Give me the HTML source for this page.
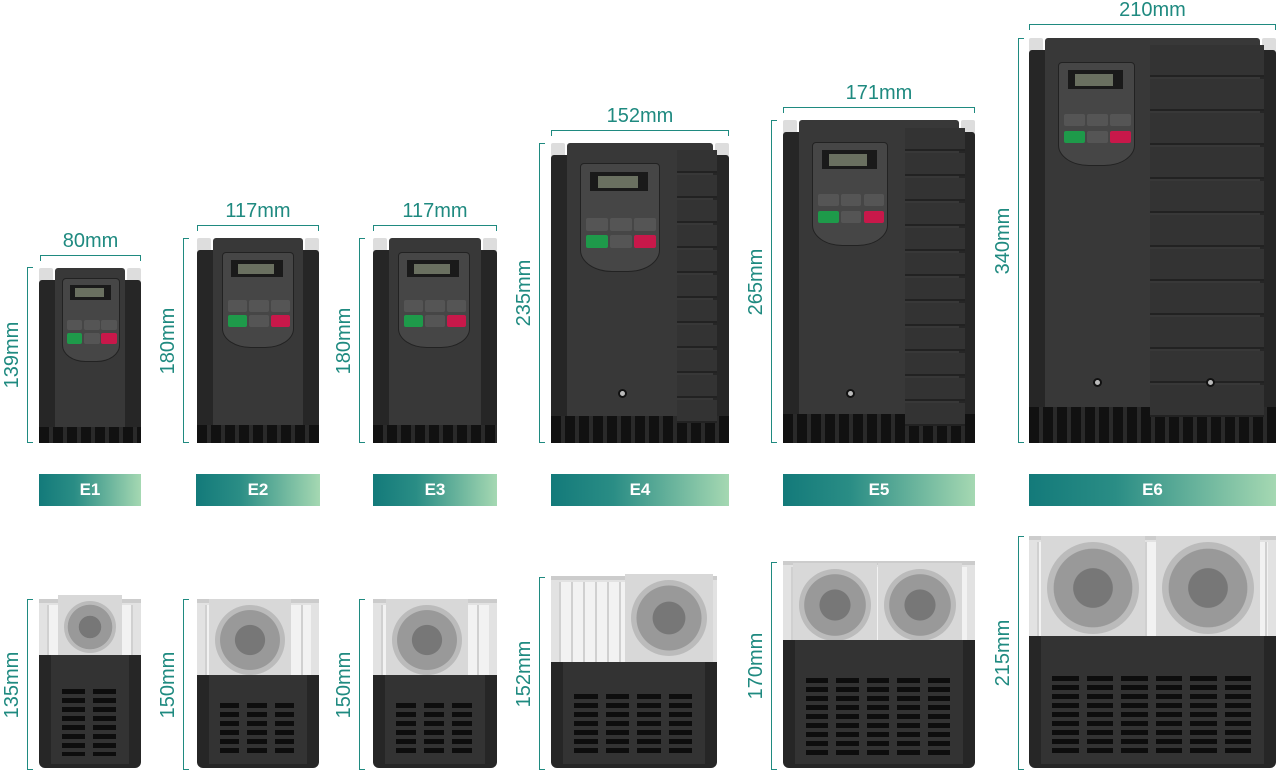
<!DOCTYPE html>
<html><head><meta charset="utf-8">
<style>
body{margin:0;width:1279px;height:776px;background:#fff;position:relative;overflow:hidden;font-family:"Liberation Sans",sans-serif}
div{position:absolute;box-sizing:border-box}
.lbl{color:#1f8a80;font-size:20px;white-space:nowrap;line-height:20px}
.badge{height:32px;top:474px;background:linear-gradient(90deg,#137a7a 0%,#2a8d85 35%,#a5d8b2 100%);color:#fff;font-weight:bold;font-size:17px;text-align:center;line-height:32px}
</style></head><body>
<script>
const T='#1f8a80';
function el(s,h){document.write('<div style="'+s+'">'+(h||'')+'</div>');}
function hdim(x0,x1,y,t){el(`left:${x0}px;top:${y}px;width:${x1-x0}px;height:6px;border:1px solid ${T};border-bottom:none`);
 el(`left:${x0-20}px;top:${y-24}px;width:${x1-x0+40}px;text-align:center`,'<span class="lbl">'+t+'</span>');}
function vdim(x,y0,y1,t){el(`left:${x}px;top:${y0}px;width:6px;height:${y1-y0}px;border:1px solid ${T};border-right:none`);
 const c=(y0+y1)/2;el(`left:${x-55}px;top:${c-10}px;width:80px;height:20px;text-align:center;transform:rotate(-90deg)`,'<span class="lbl">'+t+'</span>');}
function front(x0,x1,top,bot,kp,fins,screws){
 const w=x1-x0,h=bot-top;
 el(`left:${x0}px;top:${top}px;width:14px;height:14px;background:#ddd;border-radius:2px`);
 el(`left:${x1-14}px;top:${top}px;width:14px;height:14px;background:#ddd;border-radius:2px`);
 el(`left:${x0}px;top:${top+12}px;width:${w}px;height:${h-12}px;background:#262626;border-radius:3px`);
 el(`left:${x0+16}px;top:${top}px;width:${w-32}px;height:${h}px;background:#383838;border-radius:3px 3px 0 0`);
 const tb=Math.max(16,h*0.09);
 el(`left:${x0}px;top:${bot-tb}px;width:${w}px;height:${tb}px;background:repeating-linear-gradient(90deg,#111 0 10px,#2a2a2a 10px 14px)`);
 if(fins){for(let y=fins[2];y<fins[3];y+=fins[4])el(`left:${fins[0]}px;top:${y}px;width:${fins[1]-fins[0]}px;height:${fins[4]-2}px;background:#333;border-bottom:2px solid #222`);}
 const [kx0,kx1,ky0,ky1]=kp,kw=kx1-kx0,kh=ky1-ky0;
 el(`left:${kx0}px;top:${ky0}px;width:${kw}px;height:${kh}px;background:#464646;border-radius:4px 4px 40% 40%/4px 4px 20% 20%;border:1px solid #222`);
 el(`left:${kx0+kw*.13}px;top:${ky0+kh*.08}px;width:${kw*.72}px;height:${kh*.18}px;background:#1a1a1a`);
 el(`left:${kx0+kw*.22}px;top:${ky0+kh*.12}px;width:${kw*.5}px;height:${kh*.11}px;background:#6a7060`);
 const bw=kw*.27,bh=kh*.12;
 const cols=['#555','#555','#555','#1e9a4a','#555','#c8184a'];
 for(let i=0;i<6;i++){const c=i%3,r=Math.floor(i/3);
  el(`left:${kx0+kw*.08+c*(bw+kw*.03)}px;top:${ky0+kh*.5+r*(bh+kh*.04)}px;width:${bw}px;height:${bh}px;background:${cols[i]};border-radius:2px`);}
 (screws||[]).forEach(s=>el(`left:${s[0]-4}px;top:${s[1]-4}px;width:9px;height:9px;border-radius:50%;background:#bbb;border:2px solid #111`));
}
function back(x0,x1,top,mid,bot,fans,fanY,fr){
 const w=x1-x0;
 el(`left:${x0}px;top:${top}px;width:${w}px;height:${mid-top+4}px;background:#e2e2e2;border-top:4px solid #ccc`);
 el(`left:${x0+8}px;top:${top+6}px;width:${w-16}px;height:${mid-top-6}px;background:repeating-linear-gradient(90deg,#d0d0d0 0 2px,#f2f2f2 2px 12px)`);
 fans.forEach(fx=>{el(`left:${fx-fr-6}px;top:${fanY-fr-6}px;width:${2*fr+12}px;height:${2*fr+12}px;background:#d8d8d8`);
  el(`left:${fx-fr}px;top:${fanY-fr}px;width:${2*fr}px;height:${2*fr}px;border-radius:50%;background:radial-gradient(circle,#777 0 30%,#999 31% 60%,#bbb 61% 88%,#222 89%)`);});
 el(`left:${x0}px;top:${mid}px;width:${w}px;height:${bot-mid}px;background:#262626;border-radius:0 0 6px 6px`);
 el(`left:${x0+12}px;top:${mid}px;width:${w-24}px;height:${bot-mid-4}px;background:#333`);
 const vy0=mid+(bot-mid)*.3;const n=Math.max(2,Math.round(w/42));const cw=(w-40)/n;
 for(let c=0;c<n;c++)el(`left:${x0+20+c*cw+3}px;top:${vy0}px;width:${cw-8}px;height:${bot-vy0-12}px;background:repeating-linear-gradient(180deg,#0d0d0d 0 5px,#333 5px 9px)`);
}
hdim(40,141,255,'80mm');hdim(197,319,225,'117mm');hdim(373,497,225,'117mm');hdim(551,729,130,'152mm');hdim(783,975,107,'171mm');hdim(1029,1276,24,'210mm');
vdim(27,267,443,'139mm');vdim(183,238,443,'180mm');vdim(359,238,443,'180mm');vdim(539,143,443,'235mm');vdim(771,120,443,'265mm');vdim(1018,38,443,'340mm');
front(39,141,268,443,[62,120,278,362]);
front(197,319,238,443,[222,294,252,348]);
front(373,497,238,443,[398,470,252,348]);
front(551,729,143,443,[580,660,163,272],[677,717,150,418,25],[[622,393]]);
front(783,975,120,443,[812,888,142,246],[905,965,128,420,25],[[850,393]]);
front(1029,1276,38,443,[1058,1135,62,166],[1150,1264,45,405,34],[[1097,382],[1210,382]]);
vdim(27,599,770,'135mm');vdim(183,599,770,'150mm');vdim(359,599,770,'150mm');vdim(539,577,770,'152mm');vdim(771,562,770,'170mm');vdim(1018,536,770,'215mm');
back(39,141,599,655,768,[90],627,26);
back(197,319,599,675,768,[250],640,35);
back(373,497,599,675,768,[427],640,35);
back(551,717,576,662,768,[669],618,38);
back(783,975,561,640,768,[835,920],605,36);
back(1029,1276,536,636,768,[1093,1208],588,46);
</script>
<div class="badge" style="left:39px;width:102px">E1</div>
<div class="badge" style="left:196px;width:124px">E2</div>
<div class="badge" style="left:373px;width:124px">E3</div>
<div class="badge" style="left:551px;width:178px">E4</div>
<div class="badge" style="left:783px;width:192px">E5</div>
<div class="badge" style="left:1029px;width:247px">E6</div>
</body></html>
